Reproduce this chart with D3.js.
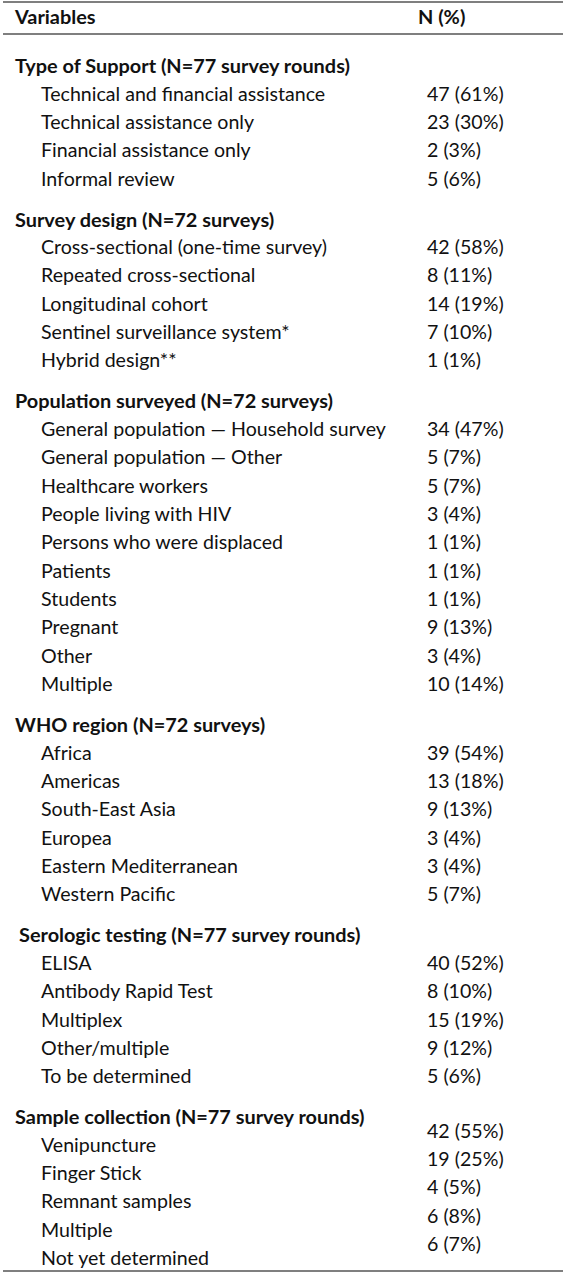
<!DOCTYPE html>
<html>
<head>
<meta charset="utf-8">
<script src="https://cdn.jsdelivr.net/npm/d3@7"></script>
<style>
  body { margin: 0; background: #fff; }
  text { font-family: Lato, "Open Sans", sans-serif; fill: #111; }
</style>
</head>
<body>
<svg id="tbl" width="566" height="1280"></svg>
<script>
// table content
var columns = ['Variables', 'N (%)']

var sections = [
    'Type of Support (N=77 survey rounds)',
    'Survey design (N=72 surveys)',
    'Population surveyed (N=72 surveys)',
    'WHO region (N=72 surveys)',
    'Serologic testing (N=77 survey rounds)',
    'Sample collection (N=77 survey rounds)'
]

var supportRows = ['Technical and financial assistance', 'Technical assistance only', 'Financial assistance only', 'Informal review']
var supportVals = ['47 (61%)', '23 (30%)', '2 (3%)', '5 (6%)']

var designRows = ['Cross-sectional (one-time survey)', 'Repeated cross-sectional', 'Longitudinal cohort', 'Sentinel surveillance system*', 'Hybrid design**']
var designVals = ['42 (58%)', '8 (11%)', '14 (19%)', '7 (10%)', '1 (1%)']

var popRows = ['General population \u2014 Household survey', 'General population \u2014 Other', 'Healthcare workers', 'People living with HIV',
    'Persons who were displaced', 'Patients', 'Students', 'Pregnant', 'Other', 'Multiple']
var popVals = ['34 (47%)', '5 (7%)', '5 (7%)', '3 (4%)', '1 (1%)', '1 (1%)', '1 (1%)', '9 (13%)', '3 (4%)', '10 (14%)']

var regionRows = ['Africa', 'Americas', 'South-East Asia', 'Europea', 'Eastern Mediterranean', 'Western Pacific']
var regionVals = ['39 (54%)', '13 (18%)', '9 (13%)', '3 (4%)', '3 (4%)', '5 (7%)']

var seroRows = ['ELISA', 'Antibody Rapid Test', 'Multiplex', 'Other/multiple', 'To be determined']
var seroVals = ['40 (52%)', '8 (10%)', '15 (19%)', '9 (12%)', '5 (6%)']

var sampleRows = ['Venipuncture', 'Finger Stick', 'Remnant samples', 'Multiple', 'Not yet determined']
var sampleVals = ['42 (55%)', '19 (25%)', '4 (5%)', '6 (8%)', '6 (7%)']

var rowGroups = [supportRows, designRows, popRows, regionRows, seroRows, sampleRows]
var valGroups = [supportVals, designVals, popVals, regionVals, seroVals, sampleVals]

var svg = d3.select('#tbl')
var step = 28.35, headGap = 27.5, sectionGap = 41
var xLabel = 15, xItem = 41, xVal = 427, xValHead = 418
var fs = 19.6, fsBold = 19.9

// build layout positions
var heads = [], items = []
var y = 66
sections.forEach((s, i) => {
    heads.push({ text: s, y: y, x: i === 4 ? 19 : xLabel })
    y += headGap
    rowGroups[i].forEach((r, j) => {
        // last section has values shifted up half a row
        var vy = i === 5 ? y - 14 : y
        items.push({ label: r, val: valGroups[i][j], y: y, vy: vy })
        if (j < rowGroups[i].length - 1) y += step
    })
    y += sectionGap
})

// rules
var rules = [2, 34, 1271]
svg.selectAll('.rule')
    .data(rules)
    .enter()
    .append('line')
    .attr('x1', 3).attr('x2', 563)
    .attr('y1', d => d).attr('y2', d => d)
    .attr('stroke', '#555')
    .attr('stroke-width', 1.3)
    .classed('rule', true)

// column headers
svg.selectAll('.colhead')
    .data(columns)
    .enter()
    .append('text')
    .attr('x', (d, i) => i ? xValHead : xLabel)
    .attr('y', 24)
    .attr('font-size', fsBold)
    .attr('font-weight', 'bold')
    .text(d => d)
    .classed('colhead', true)

svg.selectAll('.sec')
    .data(heads)
    .enter()
    .append('text')
    .attr('x', d => d.x)
    .attr('y', d => d.y + 7)
    .attr('font-size', fsBold)
    .attr('font-weight', 'bold')
    .text(d => d.text)
    .classed('sec', true)

svg.selectAll('.item')
    .data(items)
    .enter()
    .append('text')
    .attr('x', xItem)
    .attr('y', d => d.y + 7)
    .attr('font-size', fs)
    .text(d => d.label)
    .classed('item', true)

svg.selectAll('.val')
    .data(items)
    .enter()
    .append('text')
    .attr('x', xVal)
    .attr('y', d => d.vy + 7)
    .attr('font-size', fs)
    .text(d => d.val)
    .classed('val', true)
</script>
</body>
</html>
